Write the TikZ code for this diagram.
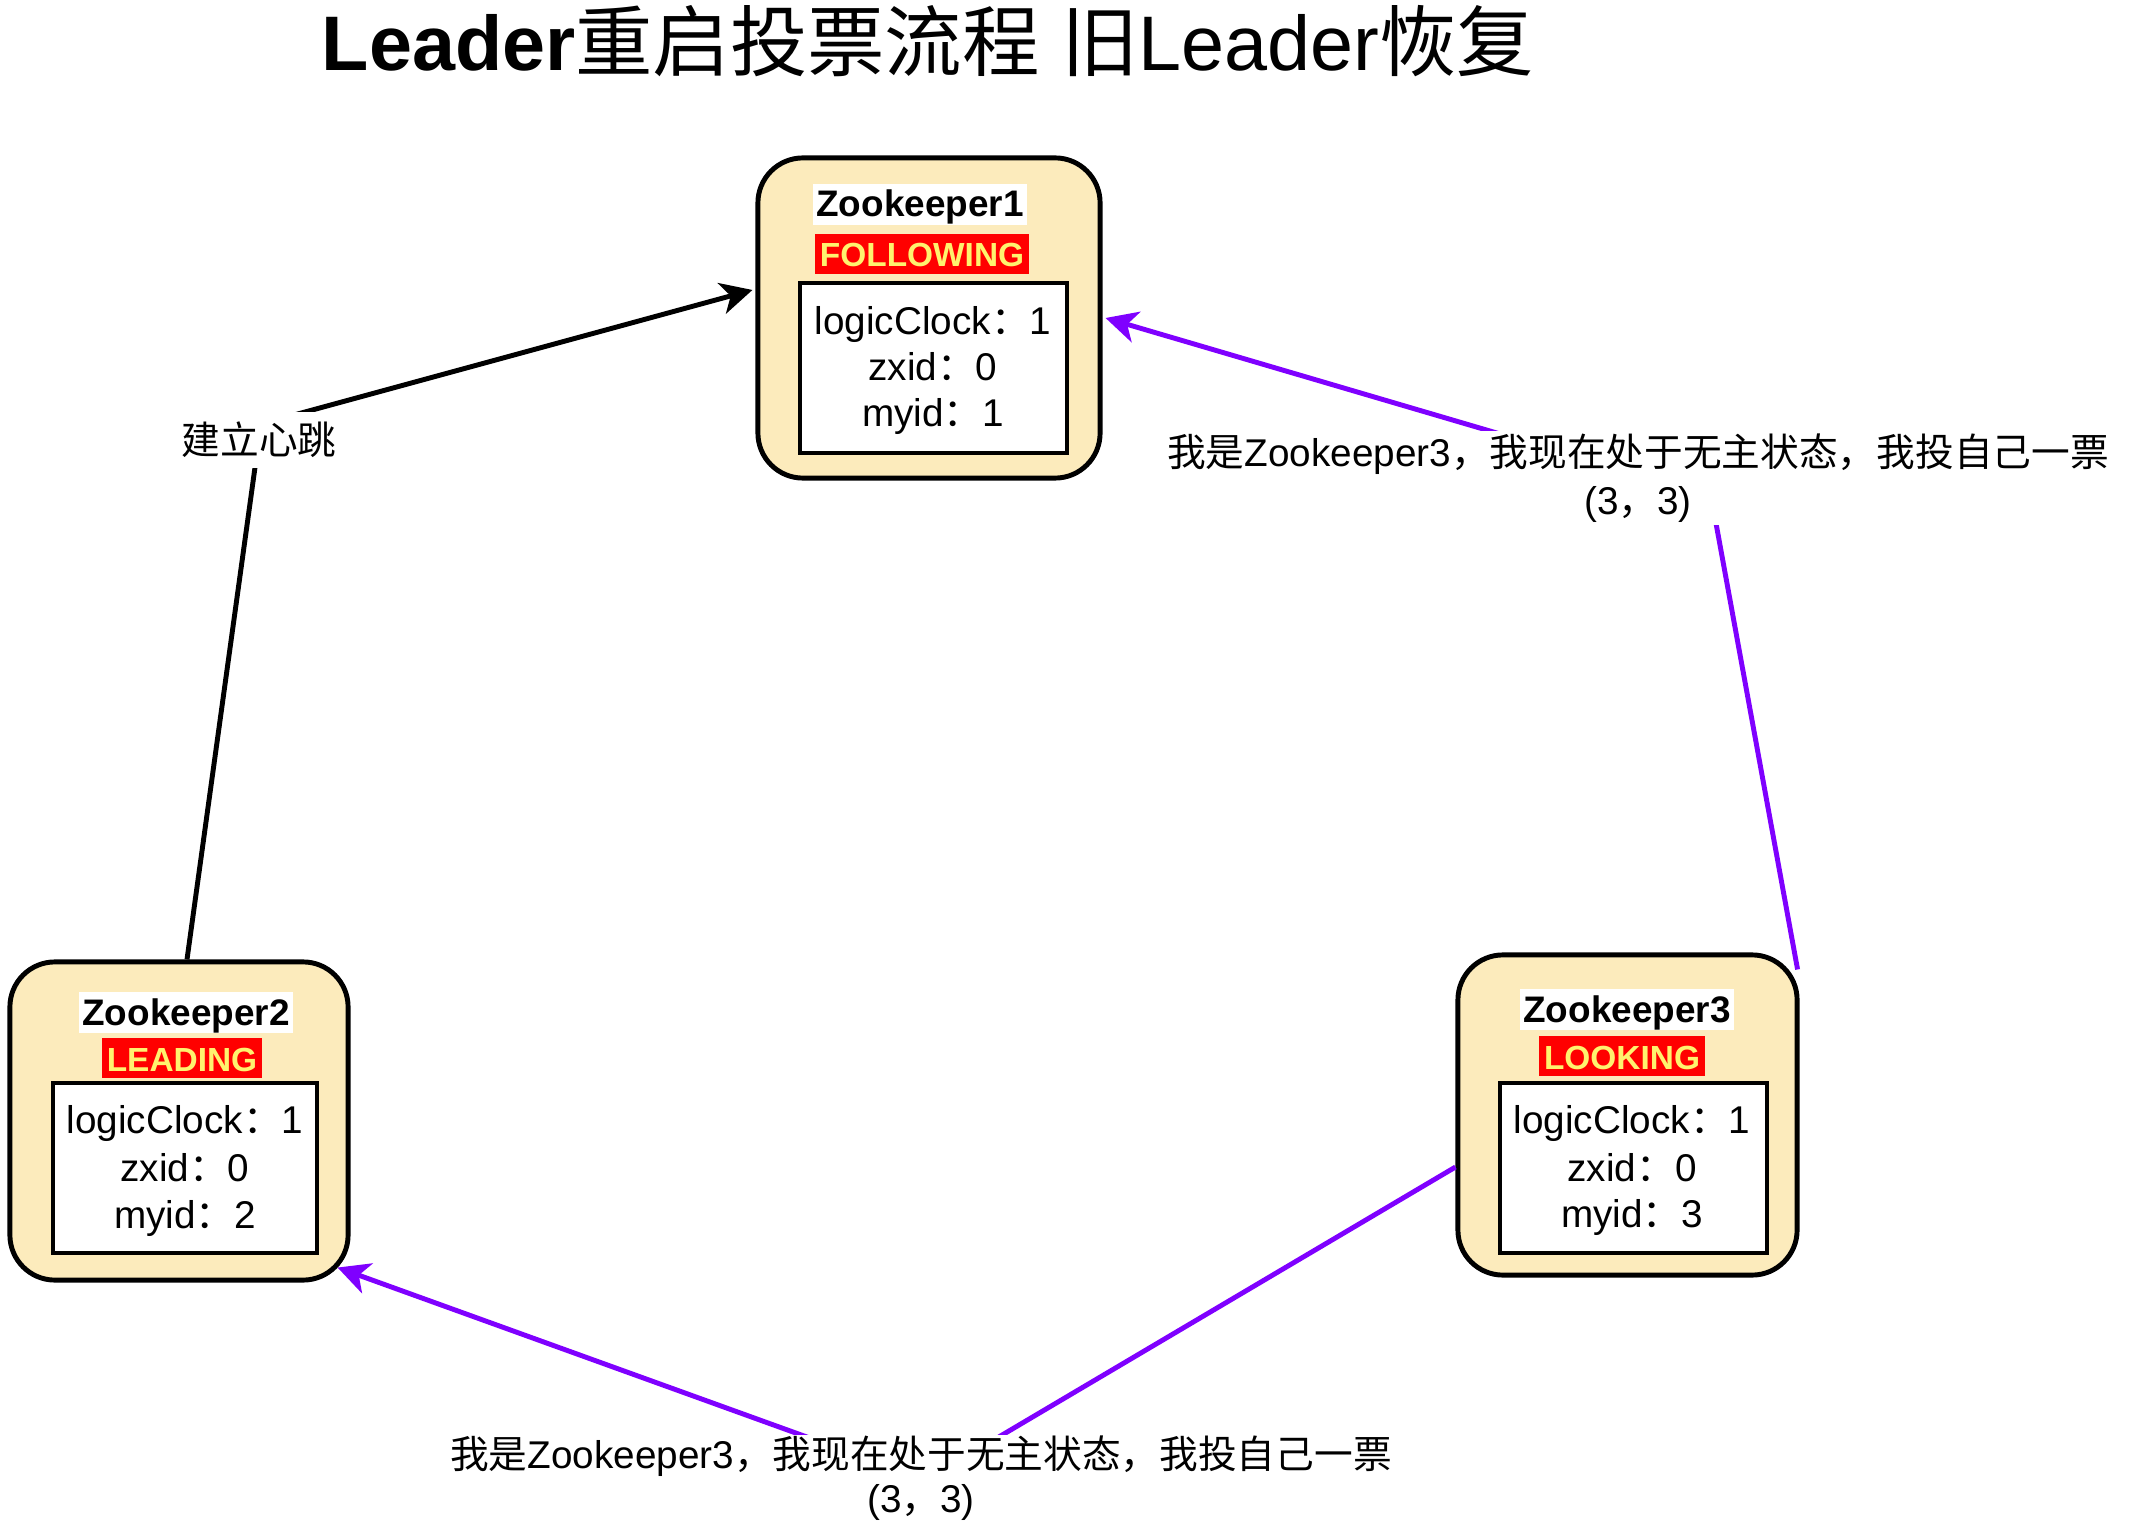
\documentclass[tikz,border=0pt]{standalone}
\usepackage{fontspec}
\setmainfont{Liberation Sans}
\newfontfamily\cjk{Noto Sans CJK SC}
\newcommand{\zhtext}[1]{{\cjk #1}}
\usetikzlibrary{arrows.meta}
\definecolor{boxfill}{RGB}{252,235,188}
\definecolor{vpurple}{RGB}{127,0,255}
\definecolor{stateyellow}{RGB}{255,242,110}
\begin{document}
\begin{tikzpicture}[x=0.01cm, y=-0.01cm,
  zkbox/.style={draw=black, line width=1.4pt, fill=boxfill, rounded corners=0.45cm, inner sep=0pt},
  databox/.style={draw=black, line width=1.3pt, fill=white, inner sep=0pt},
  zkname/.style={anchor=base, fill=white, inner xsep=1pt, inner ysep=0.3pt, text height=9pt, text depth=2pt, font=\fontsize{10.5}{12}\selectfont\bfseries},
  zkstate/.style={anchor=base, fill=red, text=stateyellow, inner xsep=1.5pt, inner ysep=0.3pt, text height=9pt, text depth=1.8pt, font=\fontsize{9.5}{11}\selectfont\bfseries},
  dataline/.style={anchor=base, inner sep=0pt, font=\fontsize{11}{13}\selectfont},
  link/.style={line width=1.4pt, -{Stealth[length=9pt,width=9pt,inset=2.6pt]}},
  edgelabel/.style={fill=white, inner xsep=0pt, inner ysep=0pt, align=center, font=\fontsize{11}{13.66}\selectfont},
]
\fill[white] (0,0) rectangle (2140,1522);
\useasboundingbox (0,0) rectangle (2140,1522);

% title
\node[anchor=base, inner sep=0pt, font=\fontsize{22}{26}\selectfont] (title) at (928,71)
  {\textbf{Leader}\zhtext{重启投票流程} \zhtext{旧}Leader\zhtext{恢复}};

% Zookeeper1
\node[zkbox, minimum width=3.42cm, minimum height=3.2cm] (zk1) at (929,318) {};
\node[databox, minimum width=2.67cm, minimum height=1.70cm] (d1) at (933.5,368) {};
\node[zkname] (n1) at (920,217) {Zookeeper1};
\node[zkstate] (s1) at (922,267) {FOLLOWING};
\node[dataline] (d1a) at (933,335) {logicClock\zhtext{：}1};
\node[dataline] (d1b) at (933,381) {zxid\zhtext{：}0};
\node[dataline] (d1c) at (933,427) {myid\zhtext{：}1};

% Zookeeper2
\node[zkbox, minimum width=3.38cm, minimum height=3.18cm] (zk2) at (179,1121) {};
\node[databox, minimum width=2.64cm, minimum height=1.70cm] (d2) at (185,1168) {};
\node[zkname] (n2) at (186,1025) {Zookeeper2};
\node[zkstate] (s2) at (182,1071) {LEADING};
\node[dataline] (d2a) at (185,1133) {logicClock\zhtext{：}1};
\node[dataline] (d2b) at (185,1181) {zxid\zhtext{：}0};
\node[dataline] (d2c) at (185,1228) {myid\zhtext{：}2};

% Zookeeper3
\node[zkbox, minimum width=3.39cm, minimum height=3.2cm] (zk3) at (1627.5,1115) {};
\node[databox, minimum width=2.67cm, minimum height=1.70cm] (d3) at (1633.5,1168) {};
\node[zkname] (n3) at (1627,1022) {Zookeeper3};
\node[zkstate] (s3) at (1622,1069) {LOOKING};
\node[dataline] (d3a) at (1632,1133) {logicClock\zhtext{：}1};
\node[dataline] (d3b) at (1632,1181) {zxid\zhtext{：}0};
\node[dataline] (d3c) at (1632,1227) {myid\zhtext{：}3};

% bend points of the connectors (hidden under the labels)
\coordinate (b1) at (261,424);
\coordinate (b2) at (1711,496);
\coordinate (b3) at (926,1480);

% connectors
\draw[link, black] ([xshift=0.08cm]zk2.north) -- (b1) -- ([xshift=-0.03cm,yshift=0.28cm]zk1.west);
\draw[link, vpurple] ([xshift=-0.02cm,yshift=-0.17cm]zk3.north east) -- (b2) -- ([xshift=0.03cm]zk1.east);
\draw[link, vpurple] ([yshift=-0.52cm]zk3.west) -- (b3) -- ([xshift=-0.13cm,yshift=0.15cm]zk2.south east);

% connector labels
\node[edgelabel, minimum height=0.55cm] (hb) at (259,440) {\zhtext{建立心跳}};
\node[edgelabel, minimum height=0.94cm] (v1) at (1638,478)
  {\zhtext{我是}Zookeeper3\zhtext{，我现在处于无主状态，我投自己一票}\\(3\zhtext{，}3)};
\node[edgelabel, minimum height=0.86cm, font=\fontsize{11}{12.5}\selectfont] (v2) at (921,1478)
  {\zhtext{我是}Zookeeper3\zhtext{，我现在处于无主状态，我投自己一票}\\(3\zhtext{，}3)};
\end{tikzpicture}
\end{document}
